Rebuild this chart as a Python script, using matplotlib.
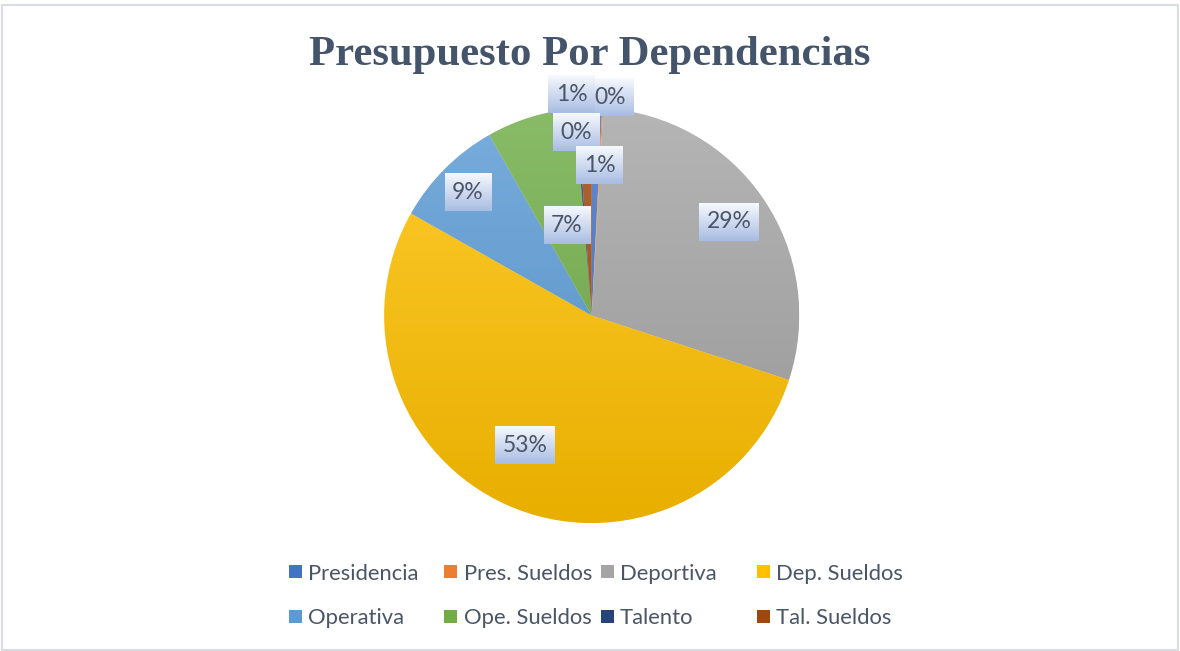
import numpy as np
import matplotlib
matplotlib.use("Agg")
import matplotlib.pyplot as plt
from matplotlib.patches import Rectangle
from matplotlib.colors import to_rgb

# Budget share per department (percent of total)
categories = ["Presidencia", "Pres. Sueldos", "Deportiva", "Dep. Sueldos",
              "Operativa", "Ope. Sueldos", "Talento", "Tal. Sueldos"]
shares = [0.8, 0.1, 29.1, 53.1, 8.6, 6.9, 0.2, 1.1]
colors = ["#4472C4", "#ED7D31", "#A5A5A5", "#FFC000",
          "#5B9BD5", "#70AD47", "#264478", "#9E480E"]

# Data-label anchor points in pie units (radius = 1), same order as categories
label_xy = [(0.039, 0.725), (0.091, 1.053), (0.662, 0.451), (-0.321, -0.626),
            (-0.596, 0.595), (-0.119, 0.435), (-0.073, 0.882), (-0.096, 1.064)]
# drawing order of the label boxes (later ones sit on top)
label_order = [1, 7, 6, 0, 2, 3, 4, 5]

W, H = 1180, 651
DPI = 100
fig = plt.figure(figsize=(W / DPI, H / DPI), dpi=DPI)
fig.patch.set_facecolor("white")

TEXT = "#4A5568"
SANS = ["Lato", "DejaVu Sans"]

# outer chart-area border
fig.add_artist(Rectangle((1.5 / W, 1.5 / H), (W - 3.5) / W, (H - 6) / H,
                         transform=fig.transFigure, fill=False,
                         edgecolor="#D9DDE3", linewidth=1.5))

# title
fig.text(590 / W, 1 - 65 / H, "Presupuesto Por Dependencias",
         ha="center", va="baseline", fontsize=30.8, fontweight="bold",
         family=["Liberation Serif", "DejaVu Serif"], color="#44546A")

# pie axes: centre (591.7, 315.5) px, radius 207.5 px
cx, cy, r = 591.7, 315.5, 207.5
ax = fig.add_axes([(cx - r) / W, (H - cy - r) / H, 2 * r / W, 2 * r / H])
wedges, _ = ax.pie(shares, colors=colors, startangle=90, counterclock=False,
                   radius=1, center=(0, 0),
                   wedgeprops=dict(edgecolor="white", linewidth=0.4))

# soft top-to-bottom shading on each slice
t = np.linspace(0, 1, 256)[:, None]
for w, c in zip(wedges, colors):
    base = np.array(to_rgb(c))
    top = base + (1 - base) * 0.18
    bot = base * 0.91
    grad = top[None, None, :] * (1 - t[:, :, None]) + bot[None, None, :] * t[:, :, None]
    grad = np.repeat(grad, 2, axis=1)
    im = ax.imshow(grad, extent=(-1, 1, -1, 1), origin="upper",
                   zorder=w.get_zorder() + 0.01, interpolation="bilinear")
    im.set_clip_path(w)

ax.set_xlim(-1, 1)
ax.set_ylim(-1, 1)
ax.set_aspect("equal")
ax.axis("off")

# data labels with gradient boxes
total = sum(shares)
pct_text = [f"{round(v / total * 100):d}%" for v in shares]
fig.canvas.draw()
renderer = fig.canvas.get_renderer()
box_t = np.linspace(0, 1, 64)[:, None, None]
box_top = np.array([0.965, 0.975, 0.995])
box_bot = np.array([0.66, 0.74, 0.89])
box_grad = np.repeat(box_top * (1 - box_t) + box_bot * box_t, 2, axis=1)
px = 1.0 / r  # one pixel in pie units
for z, i in enumerate(label_order):
    x, y = label_xy[i]
    txt = ax.text(x, y, pct_text[i], ha="center", va="center", fontsize=16.5,
                  family=SANS, color=TEXT, zorder=20 + 2 * z + 1, clip_on=False)
    tw = txt.get_window_extent(renderer).width
    bw = (tw + 15) * px
    bh = 37.5 * px
    box = ax.imshow(box_grad, extent=(x - bw / 2, x + bw / 2, y - bh / 2, y + bh / 2),
                    origin="upper", zorder=20 + 2 * z, interpolation="bilinear",
                    aspect="auto")
    box.set_clip_on(False)
ax.set_xlim(-1, 1)
ax.set_ylim(-1, 1)

# legend: two rows of four equally spaced entries
col_x0, col_dx = 288.5, 156.0
row_y = [571.7, 616.5]
sq = 13.0
for k, (name, c) in enumerate(zip(categories, colors)):
    row, col = divmod(k, 4)
    mx = col_x0 + col * col_dx
    my = row_y[row]
    fig.add_artist(Rectangle((mx / W, (H - my - sq / 2) / H), sq / W, sq / H,
                             transform=fig.transFigure, facecolor=c,
                             edgecolor="none"))
    fig.text((mx + sq + 6.5) / W, (H - my) / H, name, ha="left",
             va="center_baseline", fontsize=15.8, family=SANS, color=TEXT)

fig.savefig("out.png", dpi=DPI, facecolor="white")
